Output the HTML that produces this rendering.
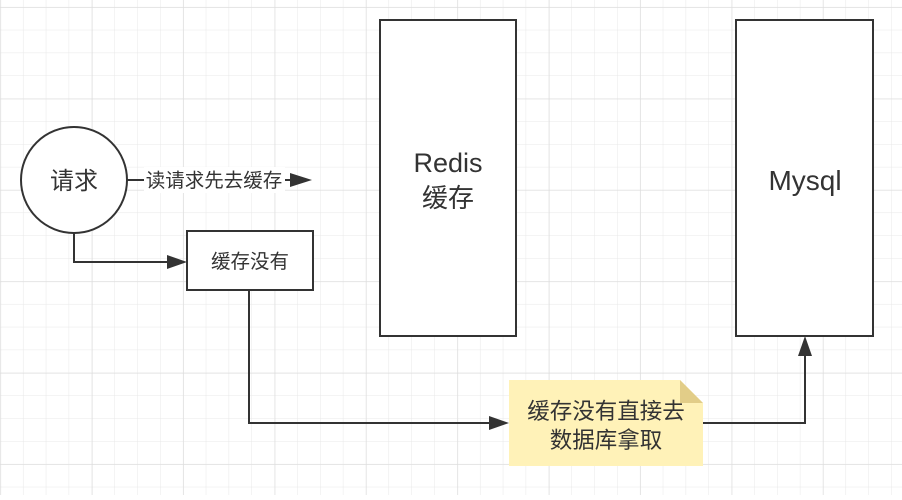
<!DOCTYPE html>
<html><head><meta charset="utf-8"><style>
body{margin:0;width:902px;height:495px;overflow:hidden;background:#fff}
svg text{font-family:"Liberation Sans","Noto Sans CJK SC",sans-serif;fill:#333}
</style></head><body>
<svg width="902" height="495" xmlns="http://www.w3.org/2000/svg">
<defs>
<pattern id="g" x="0.6" y="7.4" width="22.85" height="22.85" patternUnits="userSpaceOnUse">
<path d="M22.85 0V22.85M0 22.85H22.85" stroke="#e8e8e8" stroke-width="1" fill="none"/>
</pattern>
<pattern id="G" x="0.6" y="7.4" width="91.4" height="91.4" patternUnits="userSpaceOnUse">
<path d="M0 0V91.4M0 0H91.4" stroke="#dcdcdc" stroke-width="1" fill="none"/>
</pattern>
</defs>
<rect width="902" height="495" fill="url(#g)"/>
<rect width="902" height="495" fill="url(#G)"/>
<g stroke="#333" stroke-width="2" fill="none">
<path d="M127 180H290"/>
<path d="M74 233V262H168"/>
<path d="M249 290V423H490"/>
<path d="M703 423H805V355"/>
</g>
<g fill="#333">
<path d="M312 180L290 173L290 187Z"/>
<path d="M187 262L167 255L167 269Z"/>
<path d="M509 423L489 416L489 430Z"/>
<path d="M805 336L798 356L812 356Z"/>
</g>
<rect x="144" y="167" width="141" height="26" fill="#fff"/>
<text x="214" y="187" font-size="19.5" text-anchor="middle">读请求先去缓存</text>
<circle cx="74" cy="180" r="53" fill="#fff" stroke="#333" stroke-width="2"/>
<text x="74" y="189" font-size="24" text-anchor="middle">请求</text>
<rect x="187" y="231" width="126" height="59" fill="#fff" stroke="#333" stroke-width="2"/>
<text x="250" y="268" font-size="19.5" text-anchor="middle">缓存没有</text>
<rect x="380" y="20" width="136" height="316" fill="#fff" stroke="#333" stroke-width="2"/>
<text x="448" y="172" font-size="27" text-anchor="middle">Redis</text>
<text x="448" y="207" font-size="26" text-anchor="middle">缓存</text>
<rect x="736" y="20" width="137" height="316" fill="#fff" stroke="#333" stroke-width="2"/>
<text x="805" y="190" font-size="28" text-anchor="middle">Mysql</text>
<path d="M509 380H680L703 403V466H509Z" fill="#fff2b8"/>
<path d="M680 380L703 403H680Z" fill="#e2cd88"/>
<text x="606" y="419" font-size="22.5" text-anchor="middle">缓存没有直接去</text>
<text x="606" y="448" font-size="22.5" text-anchor="middle">数据库拿取</text>
</svg>
</body></html>
